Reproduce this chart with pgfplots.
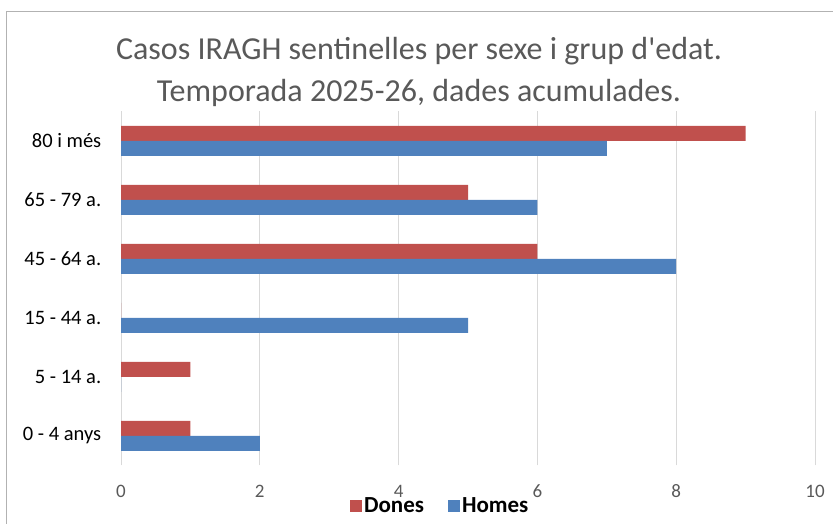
\documentclass[border=0pt]{standalone}
\usepackage{fontspec}
\setmainfont{Carlito}
\usepackage{pgfplots}
\pgfplotsset{compat=1.18}
\definecolor{dones}{HTML}{C0504D}
\definecolor{homes}{HTML}{4F81BD}
\definecolor{txtgray}{HTML}{595959}
\definecolor{gridgray}{HTML}{D9D9D9}
\begin{document}
\begin{tikzpicture}[x=1bp,y=1bp]
\path[use as bounding box] (0,0) rectangle (833,524);
\draw[color=black!30, line width=1bp] (6,-5) -- (6,512) -- (840,512);
\node[align=center, text=txtgray, font=\fontsize{32bp}{42bp}\selectfont] at (419,452)
  {Casos IRAGH sentinelles per sexe i grup d\textquotesingle edat.\\Temporada 2025-26, dades acumulades.};
\begin{axis}[
  at={(121bp,58.5bp)}, anchor=south west,
  scale only axis, width=694bp, height=354bp,
  xbar, bar width=15bp,
  xmin=0, xmax=10, ymin=-0.5, ymax=5.5,
  xtick={0,2,...,10},
  ytick={0,...,5},
  yticklabels={0 - 4 anys,5 - 14 a.,15 - 44 a.,45 - 64 a.,65 - 79 a.,80 i més},
  axis line style={draw=none},
  tick style={draw=none},
  xmajorgrids, grid style={gridgray, line width=1bp},
  /pgf/number format/assume math mode=true,
  xticklabel style={text=txtgray, font=\fontsize{19bp}{22bp}\selectfont, yshift=-16bp},
  yticklabel style={text=black, font=\fontsize{20.5bp}{24bp}\selectfont, xshift=-12bp},
  legend style={at={(0.46,-0.115)}, anchor=center, draw=none, fill=none,
    legend columns=2, font=\bfseries\fontsize{23bp}{26bp}\selectfont,
    /tikz/every even column/.append style={column sep=22bp}},
  legend image code/.code={\fill[#1] (0bp,-6bp) rectangle (12bp,6bp);},
]
\addplot[fill=dones, draw=none, bar shift=7.5bp] coordinates {
  (1,0) (1,1) (0,2) (6,3) (5,4) (9,5)
};
\addplot[fill=homes, draw=none, bar shift=-7.5bp] coordinates {
  (2,0) (0,1) (5,2) (8,3) (6,4) (7,5)
};
\legend{Dones, Homes}
\end{axis}
\end{tikzpicture}
\end{document}
